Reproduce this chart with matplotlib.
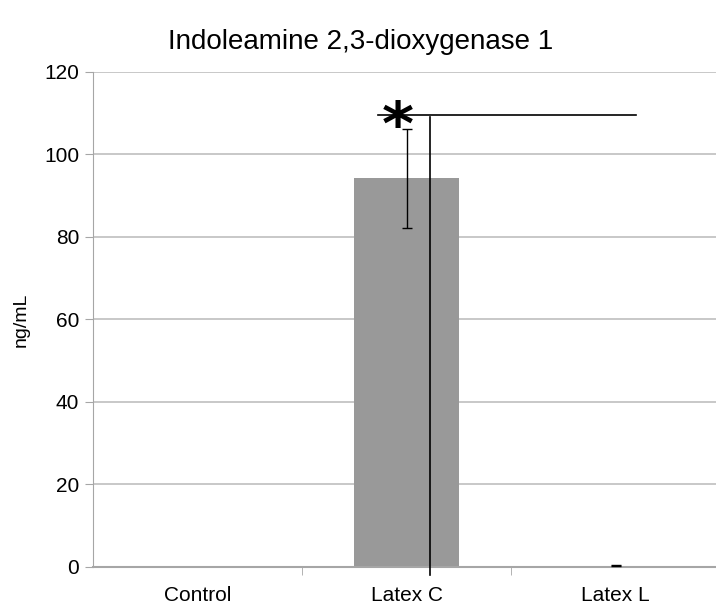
import numpy as np
import matplotlib
matplotlib.use('Agg')
from matplotlib import pyplot as plt

matplotlib.rcParams['font.family'] = ['Liberation Sans', 'DejaVu Sans']

groups = ['Control', 'Latex C', 'Latex L']
means = [0.1, 94.2, 0.3]
errs = [0.0, 12.0, 0.1]
sig_y = 109.6

fig = plt.figure(figsize=(7.16, 6.04), dpi=100)
ax = fig.add_axes([0.130, 0.0613, 0.8756, 0.8195])

x = np.arange(len(groups))
ax.bar(x, means, width=0.5, color='#999999', zorder=2)
# control has no visible error bar
ax.errorbar(x[1:], means[1:], yerr=errs[1:], fmt='none', ecolor='black',
            elinewidth=1, capsize=3.4, capthick=1, zorder=3)

# significance bracket
ax.plot([0.864, 2.10], [sig_y, sig_y], color='black', lw=1.2, zorder=4)
ax.plot([1.112, 1.112], [sig_y - 0.6, -1.9], color='black', lw=1.2, zorder=4,
        clip_on=False)
ax.text(0.96, sig_y - 3.2, '*', fontsize=44, fontweight='bold',
        ha='center', va='center', family='DejaVu Sans', zorder=5)

ax.set_xlim(-0.5, 2.5)
ax.set_ylim(0, 120)
ax.set_yticks(np.arange(0, 121, 20))
ax.set_xticks(x)
ax.set_xticklabels(groups, fontsize=15)
ax.set_xticks([0.5, 1.5, 2.5], minor=True)
ax.tick_params(axis='x', which='major', length=0, pad=14)
ax.tick_params(axis='x', which='minor', length=6, color='#a6a6a6')
ax.tick_params(axis='y', labelsize=15, length=6, color='#a6a6a6', pad=4)

ax.grid(axis='y', color='#bfbfbf', lw=1.2, zorder=0)
ax.set_axisbelow(True)
for s in ['top', 'right']:
    ax.spines[s].set_visible(False)
ax.spines['left'].set_color('#a6a6a6')
ax.spines['bottom'].set_color('#a6a6a6')
ax.spines['bottom'].set_linewidth(1.5)

fig.text(0.030, 0.47, 'ng/mL', fontsize=14, rotation=90, ha='center',
         va='center')
fig.text(0.504, 0.93, 'Indoleamine 2,3-dioxygenase 1', fontsize=20,
         ha='center', va='center')

plt.savefig('out.png', dpi=100)
